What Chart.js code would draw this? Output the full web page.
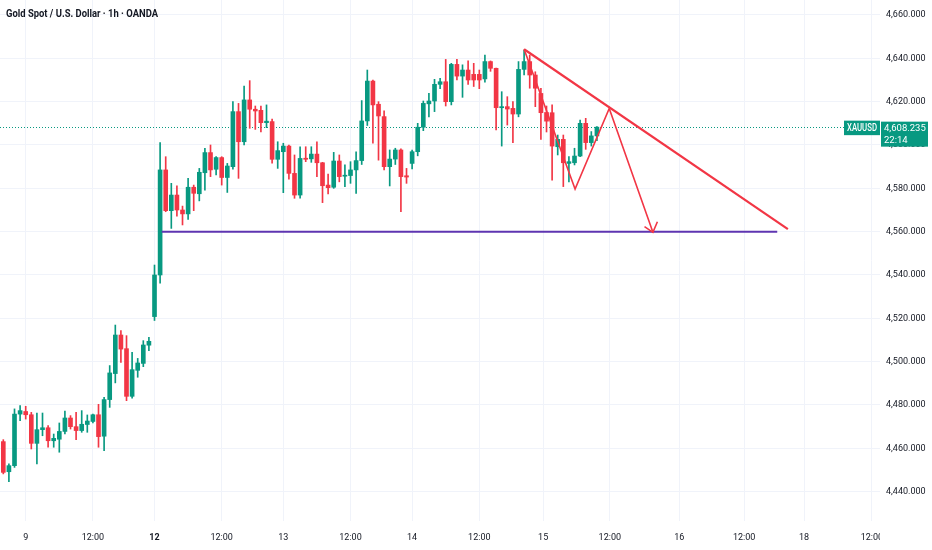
<!DOCTYPE html>
<html>
<head>
<meta charset="utf-8">
<script src="https://cdn.jsdelivr.net/npm/chart.js@4.4.1/dist/chart.umd.min.js"></script>
<style>
  html, body { margin:0; padding:0; background:#fff; }
  #wrap { position:relative; width:932px; height:550px; }
</style>
</head>
<body>
<div id="wrap"><canvas id="chart"></canvas></div>
<script>
// XAUUSD 1h (OANDA) - bar index 0 = first bar of the 9th
const firstBar = -4;
const opens = [4463.1,4449.2,4452.0,4475.8,4477.0,4475.5,4462.3,4468.6,4469.5,4463.5,
  4464.2,4467.8,4474.0,4470.0,4468.2,4471.0,4472.4,4475.5,4465.6,4482.5,
  4494.5,4512.3,4506.0,4484.0,4496.0,4499.2,4507.6,4520.8,4540.0,4588.5,
  4569.7,4576.9,4570.0,4568.2,4580.5,4577.5,4587.2,4596.5,4588.8,4594.2,
  4585.0,4590.0,4615.4,4601.5,4620.8,4616.5,4616.0,4610.3,4610.8,4593.4,
  4596.9,4599.5,4586.9,4576.9,4593.9,4593.6,4595.8,4591.8,4581.5,4580.5,
  4592.6,4585.6,4585.9,4588.5,4592.8,4611.1,4629.5,4618.8,4613.1,4590.0,
  4593.5,4597.7,4585.8,4591.5,4596.9,4608.2,4619.0,4620.3,4628.0,4629.2,
  4620.0,4637.2,4631.8,4634.6,4632.6,4632.6,4630.5,4638.5,4635.4,4617.2,
  4617.7,4616.9,4614.3,4634.9,4638.5,4632.3,4623.8,4615.0,4614.9,4599.2,
  4602.6,4591.5,4591.8,4594.9,4610.0,4601.1,4604.2];
const highs = [4464.0,4452.8,4478.2,4479.7,4479.4,4476.6,4476.3,4476.3,4470.5,4466.6,
  4471.7,4477.2,4475.1,4476.6,4477.4,4475.4,4475.8,4480.3,4483.5,4498.2,
  4516.9,4514.3,4512.0,4504.3,4501.5,4509.7,4511.2,4544.6,4601.1,4594.6,
  4582.3,4581.1,4571.8,4584.6,4581.5,4589.2,4598.5,4600.0,4594.6,4594.6,
  4591.5,4620.0,4619.2,4627.2,4629.7,4618.0,4618.0,4618.5,4612.0,4601.5,
  4600.8,4600.0,4595.4,4599.2,4599.2,4599.2,4601.5,4592.0,4586.6,4596.6,
  4595.4,4590.8,4592.3,4596.9,4620.5,4634.6,4630.0,4620.0,4615.8,4597.7,
  4598.5,4598.2,4589.2,4597.7,4610.0,4620.3,4623.8,4630.3,4630.8,4639.5,
  4637.7,4639.5,4637.0,4638.8,4637.7,4634.6,4641.5,4638.8,4635.5,4624.6,
  4622.3,4620.0,4638.5,4643.8,4641.5,4633.8,4626.2,4618.0,4618.5,4604.6,
  4604.6,4594.6,4598.5,4611.5,4612.3,4606.2,4608.5];
const lows = [4448.2,4444.6,4451.2,4472.8,4473.5,4459.7,4452.8,4465.8,4460.5,4460.5,
  4458.2,4466.6,4468.9,4464.0,4467.4,4467.4,4471.7,4460.5,4458.9,4478.9,
  4490.2,4499.7,4482.0,4483.1,4492.8,4497.7,4505.1,4519.0,4536.2,4569.2,
  4561.5,4567.2,4563.1,4565.7,4569.7,4574.2,4579.2,4585.4,4586.2,4581.5,
  4578.1,4588.8,4584.6,4600.0,4607.7,4607.2,4606.0,4608.0,4591.6,4589.2,
  4578.0,4584.2,4575.4,4575.4,4592.3,4592.0,4585.4,4573.4,4577.4,4580.0,
  4583.0,4580.8,4582.3,4577.7,4591.0,4609.0,4600.8,4593.0,4588.5,4581.1,
  4591.0,4569.2,4582.3,4589.0,4595.0,4606.6,4613.0,4615.4,4626.0,4618.0,
  4618.5,4630.0,4622.0,4628.0,4627.0,4626.0,4629.0,4634.0,4606.9,4599.5,
  4609.2,4601.1,4613.0,4632.3,4626.2,4617.7,4602.6,4606.0,4583.8,4595.4,
  4580.8,4583.0,4590.8,4594.6,4598.0,4599.5,4602.0];
const closes = [4448.9,4452.0,4475.8,4477.4,4475.5,4462.3,4468.6,4469.5,4463.5,4464.6,
  4467.8,4474.0,4470.0,4468.2,4471.1,4472.6,4475.5,4465.4,4482.5,4494.8,
  4512.3,4505.8,4484.0,4496.3,4499.4,4507.7,4509.4,4540.0,4588.5,4569.7,
  4576.9,4570.0,4568.2,4580.5,4577.7,4587.4,4596.5,4588.5,4594.2,4585.0,
  4590.3,4615.4,4601.5,4620.8,4616.5,4615.7,4610.3,4611.0,4593.4,4597.4,
  4599.5,4586.9,4576.9,4593.8,4593.4,4595.8,4591.8,4581.2,4580.3,4592.6,
  4585.4,4586.0,4588.5,4592.8,4611.1,4629.5,4618.5,4613.4,4590.0,4593.5,
  4597.7,4585.4,4585.2,4596.9,4608.2,4619.2,4620.3,4628.0,4629.2,4620.0,
  4637.2,4631.8,4634.6,4630.0,4630.0,4630.0,4638.5,4635.4,4617.2,4617.7,
  4616.6,4614.3,4634.9,4638.5,4632.3,4626.2,4614.9,4611.0,4599.5,4602.6,
  4591.8,4592.3,4594.9,4610.0,4601.1,4604.2,4608.235];

// time axis: bar index of each label
const tickBars   = [0, 12, 23, 35, 46, 58, 69, 81, 92.4, 104.3, 116.7, 128.3, 139, 151.1];
const tickLabels = ['9','12:00','12','12:00','13','12:00','14','12:00','15','12:00','16','12:00','18','12:00'];
const boldLabels = ['12'];

// drawings (bar index, price)
const trendLine   = [[89, 4644.2], [136.1, 4561.2]];
const zigzagPath  = [[89, 4644.2], [98.1, 4579.7], [104.2, 4616.9], [112.0, 4559.7]];
const arrowHead   = [[110.5, 4562.3], [112.0, 4559.7], [112.8, 4564.6]];
const supportLine = [[24.3, 4560], [134.2, 4560]];

const symbol = 'XAUUSD';
const lastPrice = 4608.235;
const countdown = '22:14';
const title = 'Gold Spot / U.S. Dollar \u00b7 1h \u00b7 OANDA';

const UP = '#089981', DOWN = '#f23645';
const FONT = 'Roboto, "Noto Sans", sans-serif';
const fmt = v => v.toLocaleString('en-US', {minimumFractionDigits: 3, maximumFractionDigits: 3});

const bars = opens.map((o, k) => ({ i: firstBar + k, o, h: highs[k], l: lows[k], c: closes[k] }));
const colors = bars.map(b => b.c >= b.o ? UP : DOWN);
const pts = arr => arr.map(p => ({ x: p[0], y: p[1] }));

// text squeezed to a given width (the original uses a narrow face)
function narrowText(ctx, text, x, y, maxW) {
  const w = ctx.measureText(text).width;
  const k = Math.min(1, maxW / w);
  ctx.save();
  ctx.translate(x, y);
  ctx.scale(k, 1);
  ctx.fillText(text, 0, 0);
  ctx.restore();
}

const overlay = {
  id: 'overlay',
  beforeDatasetsDraw(chart) {
    const { ctx, chartArea: a, scales: { y } } = chart;
    const py = Math.round(y.getPixelForValue(lastPrice)) + 0.5;
    ctx.save();
    ctx.strokeStyle = UP; ctx.lineWidth = 1; ctx.setLineDash([1, 2]);
    ctx.beginPath(); ctx.moveTo(a.left, py); ctx.lineTo(a.right, py); ctx.stroke();
    ctx.restore();
  },
  afterDraw(chart) {
    const { ctx, chartArea: a, scales: { y } } = chart;
    ctx.save();
    // x labels stop under the price scale
    ctx.fillStyle = '#fff';
    ctx.fillRect(a.right, a.bottom + 1, chart.width - a.right, chart.height - a.bottom);

    const py = y.getPixelForValue(lastPrice);
    ctx.textBaseline = 'middle';
    ctx.textAlign = 'left';
    // symbol tag
    ctx.fillStyle = UP;
    ctx.fillRect(a.right - 36, py - 6.5, 36, 14.5);
    ctx.fillStyle = '#fff';
    ctx.font = '500 10px ' + FONT;
    narrowText(ctx, symbol, a.right - 33, py + 1, 30);
    // last price box
    ctx.fillStyle = UP;
    ctx.fillRect(a.right + 1, py - 5.5, 47, 25);
    ctx.fillStyle = '#fff';
    ctx.font = '9.5px ' + FONT;
    narrowText(ctx, fmt(lastPrice), a.right + 4, py + 1.5, 42);
    narrowText(ctx, countdown, a.right + 4, py + 13, 42);

    // title
    ctx.fillStyle = '#131722';
    ctx.font = 'bold 11px ' + FONT;
    narrowText(ctx, title, 6, 14, 152);
    ctx.restore();
  }
};

new Chart(document.getElementById('chart'), {
  type: 'bar',
  data: {
    datasets: [
      { type: 'line', data: pts(trendLine), borderColor: DOWN, borderWidth: 2.2, pointRadius: 0, order: 0 },
      { type: 'line', data: pts(zigzagPath), borderColor: DOWN, borderWidth: 1.6, pointRadius: 0, order: 0 },
      { type: 'line', data: pts(arrowHead), borderColor: DOWN, borderWidth: 1.6, pointRadius: 0, order: 0 },
      { type: 'line', data: pts(supportLine), borderColor: '#5e35b1', borderWidth: 2, pointRadius: 0, order: 0 },
      { data: bars.map(b => ({ x: b.i, y: [b.o, b.c] })), backgroundColor: colors,
        barThickness: 4, minBarLength: 1, grouped: false, order: 1 },
      { data: bars.map(b => ({ x: b.i, y: [b.l, b.h] })), backgroundColor: colors,
        barThickness: 1, grouped: false, order: 2 }
    ]
  },
  options: {
    responsive: true,
    maintainAspectRatio: false,
    animation: false,
    layout: { padding: 0 },
    plugins: { legend: { display: false }, tooltip: { enabled: false } },
    scales: {
      x: {
        type: 'linear', offset: false,
        min: -4.59, max: 152.55,
        afterBuildTicks: s => { s.ticks = tickBars.map(v => ({ value: v })); },
        afterFit: s => { s.height = 29; s.paddingLeft = 0; s.paddingRight = 0; },
        grid: { color: '#f0f3fa', drawTicks: false, offset: false },
        border: { display: false },
        ticks: {
          padding: 11, maxRotation: 0, autoSkip: false, color: '#131722',
          font: ctx => ({ family: FONT, size: 9, weight: boldLabels.includes(tickLabels[ctx.index]) ? 'bold' : 'normal' }),
          callback: (v, k) => tickLabels[k]
        }
      },
      y: {
        position: 'right',
        min: 4426.46, max: 4666.92,
        afterFit: s => { s.width = 52; s.paddingTop = 0; s.paddingBottom = 0; },
        grid: { color: '#f0f3fa', drawTicks: false },
        border: { display: false },
        ticks: {
          stepSize: 20, includeBounds: false, padding: 6, color: '#131722',
          font: { family: FONT, size: 9 },
          callback: v => fmt(v)
        }
      }
    }
  },
  plugins: [overlay]
});
</script>
</body>
</html>
